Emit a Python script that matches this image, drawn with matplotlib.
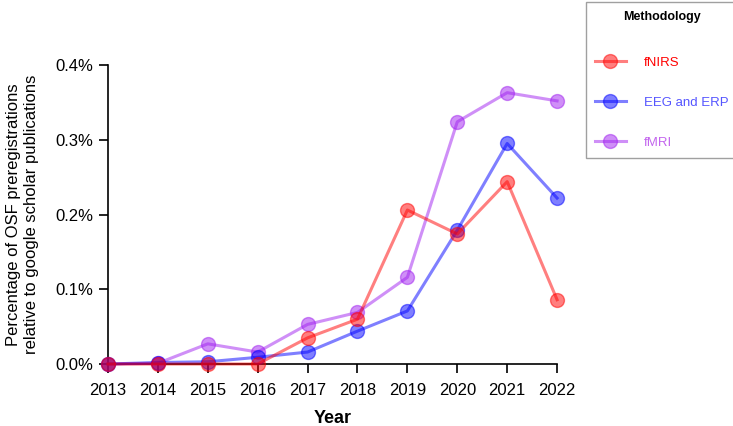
import matplotlib.pyplot as plt
import numpy as np

plt.rcParams['font.family'] = ['Liberation Sans', 'DejaVu Sans']

years = [2013, 2014, 2015, 2016, 2017, 2018, 2019, 2020, 2021, 2022]
fnirs = [0.0, 0.0, 0.0, 0.0, 0.035, 0.060, 0.206, 0.174, 0.244, 0.086]
eeg = [0.0, 0.002, 0.003, 0.009, 0.016, 0.044, 0.071, 0.179, 0.295, 0.222]
fmri = [0.0, 0.001, 0.027, 0.016, 0.053, 0.069, 0.116, 0.324, 0.363, 0.352]

series = [('fNIRS', fnirs, 'red', 'red', 5),
          ('EEG and ERP', eeg, 'blue', '#5555ff', 4),
          ('fMRI', fmri, '#a020f0', '#c366ee', 3)]

fig = plt.figure(figsize=(7.33, 4.26), dpi=100)
ax = fig.add_axes([0.1473, 0.1455, 0.6127, 0.7019])

for name, vals, col, _, z in series:
    ax.plot(years, vals, '-o', color=col, alpha=0.5, lw=2.2, ms=10,
            label=name, clip_on=False, zorder=z)

ax.set_xlim(2013, 2022)
ax.set_ylim(0, 0.4)
ax.set_xticks(years)
ax.set_yticks([0, 0.1, 0.2, 0.3, 0.4])
ax.set_yticklabels(['0.0%', '0.1%', '0.2%', '0.3%', '0.4%'])
ax.tick_params(direction='out', length=6.5, width=1.2, labelsize=12)
ax.tick_params(axis='x', pad=7)
ax.tick_params(axis='y', pad=4)
for s in ['top', 'right']:
    ax.spines[s].set_visible(False)
for s in ['left', 'bottom']:
    ax.spines[s].set_linewidth(1.2)

ax.set_xlabel('Year', fontsize=13, fontweight='bold', labelpad=9)
ax.set_ylabel('Percentage of OSF preregistrations\nrelative to google scholar publications',
              fontsize=12, labelpad=12)

leg = fig.legend(loc='upper left', bbox_to_anchor=(586 / 733, 1 - 2 / 426),
                 borderaxespad=0,
                 title='Methodology', title_fontproperties={'weight': 'bold', 'size': 9},
                 fontsize=9.5, labelspacing=2.1, handlelength=2.3, handletextpad=1.4,
                 borderpad=0.7, fancybox=False, edgecolor='#888888',
                 labelcolor=[c for _, _, _, c, _ in series])
leg._legend_box.sep = 24
leg.get_frame().set_linewidth(1.0)

fig.savefig('out.png', dpi=100)
